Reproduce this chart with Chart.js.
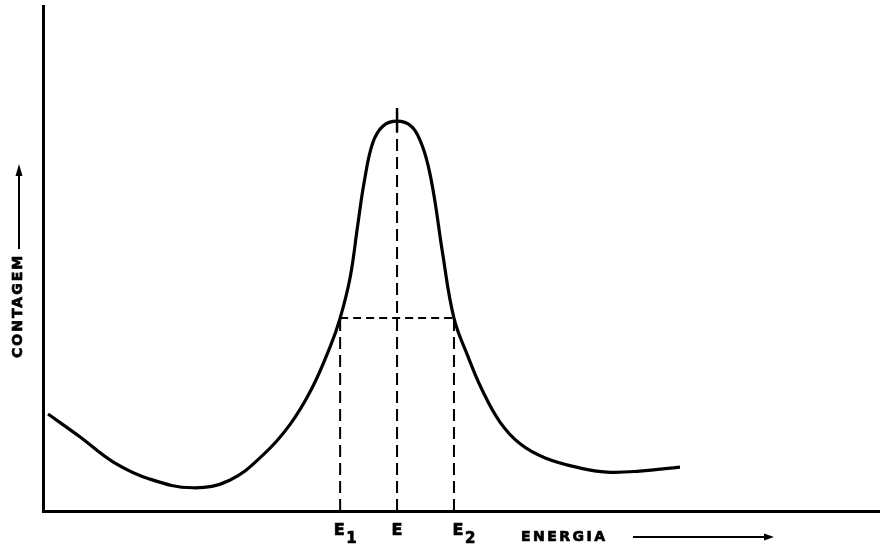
<!DOCTYPE html>
<html lang="pt">
<head>
    <meta charset="UTF-8">
    <title>Contagem x Energia</title>
    <script src="https://cdn.jsdelivr.net/npm/chart.js"></script>
    <style>
        body { margin: 0; background: #fff; }
    </style>
</head>
<body>
    <canvas id="pico" width="880" height="547"></canvas>

    <script>
        // curva do pico (energia em unidades arbitrarias, contagem relativa)
        const energia = [0.6, 4.4, 8.4, 12.8, 17.9, 22.3, 26.3, 29.5, 32.1, 34.3, 35.5, 36.7,
                         37.6, 38.4, 39.4, 40.6, 42.3, 44.0, 45.1, 46.0, 46.8, 47.7, 49.1, 50.7,
                         52.4, 54.6, 57.0, 60.0, 64.2, 67.4, 71.3, 76.1];
        const contagem = [19.2, 14.7, 9.7, 6.3, 4.6, 6.1, 11.1, 17.1, 24.2, 32.5, 38.2, 46.3,
                          56.6, 65.4, 72.9, 76.2, 77.2, 76.2, 73.2, 68.5, 61.6, 51.5, 38.2, 30.9,
                          24.2, 17.6, 13.3, 10.5, 8.5, 7.7, 7.9, 8.7];

        // energia do pico e limites da meia altura
        const E = 42.3;
        const E1 = 35.5;
        const E2 = 49.1;
        const meiaAltura = 38.2;
        const topoMarca = 79.8;

        const curva = energia.map((x, i) => ({ x: x, y: contagem[i] }));

        const tracejado = {
            borderColor: '#000',
            borderWidth: 2,
            borderDash: [12, 6],
            pointRadius: 0,
            tension: 0,
            fill: false
        };

        // texto cheio com contorno fino, para letras mais pesadas
        function escreve(c, txt, x, y) {
            c.fillText(txt, x, y);
            c.strokeText(txt, x, y);
        }

        // textos dos eixos e rotulos E1, E, E2
        const rotulos = {
            id: 'rotulos',
            afterDraw(chart) {
                const c = chart.ctx;
                const sx = chart.scales.x;
                c.save();
                c.fillStyle = '#000';
                c.strokeStyle = '#000';
                c.lineWidth = 0.7;

                // E1, E, E2 abaixo do eixo
                c.font = 'bold 16px "DejaVu Sans"';
                c.textBaseline = 'alphabetic';
                c.textAlign = 'center';
                const xE1 = sx.getPixelForValue(E1);
                const xE = sx.getPixelForValue(E);
                const xE2 = sx.getPixelForValue(E2);
                escreve(c, 'E', xE1 - 1, 535);
                escreve(c, 'E', xE, 535);
                escreve(c, 'E', xE2 + 4, 535);
                c.font = 'bold 15px "DejaVu Sans"';
                c.textAlign = 'left';
                escreve(c, '1', xE1 + 6, 543);
                escreve(c, '2', xE2 + 11, 543);

                // titulo do eixo x com seta
                c.font = 'bold 14px "DejaVu Sans"';
                c.letterSpacing = '2.5px';
                c.textBaseline = 'middle';
                escreve(c, 'ENERGIA', 521, 537);
                c.letterSpacing = '0px';
                c.lineWidth = 2;
                c.beginPath();
                c.moveTo(633, 537);
                c.lineTo(766, 537);
                c.stroke();
                c.beginPath();
                c.moveTo(774, 537);
                c.lineTo(764, 533.5);
                c.lineTo(764, 540.5);
                c.closePath();
                c.fill();

                // titulo do eixo y com seta
                c.save();
                c.translate(18, 358);
                c.rotate(-Math.PI / 2);
                c.textAlign = 'left';
                c.letterSpacing = '2px';
                c.lineWidth = 0.7;
                escreve(c, 'CONTAGEM', 0, 0);
                c.restore();
                c.letterSpacing = '0px';
                c.lineWidth = 2;
                c.beginPath();
                c.moveTo(19, 249);
                c.lineTo(19, 175);
                c.stroke();
                c.beginPath();
                c.moveTo(19, 164);
                c.lineTo(15.5, 176);
                c.lineTo(22.5, 176);
                c.closePath();
                c.fill();
                c.restore();
            }
        };

        const semEspaco = (scale) => {
            if (scale.isHorizontal()) scale.height = 0; else scale.width = 0;
        };

        new Chart(document.getElementById('pico'), {
            type: 'line',
            data: {
                datasets: [
                    {
                        data: curva,
                        borderColor: '#000',
                        borderWidth: 3.2,
                        pointRadius: 0,
                        tension: 0.4,
                        fill: false
                    },
                    {
                        data: [{ x: E, y: 0 }, { x: E, y: 75 }],
                        ...tracejado
                    },
                    {
                        data: [{ x: E, y: 75 }, { x: E, y: topoMarca }],
                        borderColor: '#000',
                        borderWidth: 2.5,
                        pointRadius: 0
                    },
                    {
                        data: [{ x: E1, y: meiaAltura }, { x: E2, y: meiaAltura }],
                        ...tracejado,
                        borderDash: [8, 5]
                    },
                    {
                        data: [{ x: E1, y: 0 }, { x: E1, y: meiaAltura }],
                        ...tracejado
                    },
                    {
                        data: [{ x: E2, y: 0 }, { x: E2, y: meiaAltura }],
                        ...tracejado
                    }
                ]
            },
            options: {
                responsive: false,
                animation: false,
                layout: {
                    padding: { left: 43, right: 0, top: 6, bottom: 36 }
                },
                plugins: {
                    legend: { display: false },
                    tooltip: { enabled: false }
                },
                scales: {
                    x: {
                        type: 'linear',
                        min: 0,
                        max: 100,
                        grid: { display: false, drawTicks: false },
                        ticks: { display: false },
                        border: { width: 3, color: '#000' },
                        afterFit: semEspaco
                    },
                    y: {
                        type: 'linear',
                        min: 0,
                        max: 100,
                        grid: { display: false, drawTicks: false },
                        ticks: { display: false },
                        border: { width: 3, color: '#000' },
                        afterFit: semEspaco
                    }
                }
            },
            plugins: [rotulos]
        });
    </script>
</body>
</html>
